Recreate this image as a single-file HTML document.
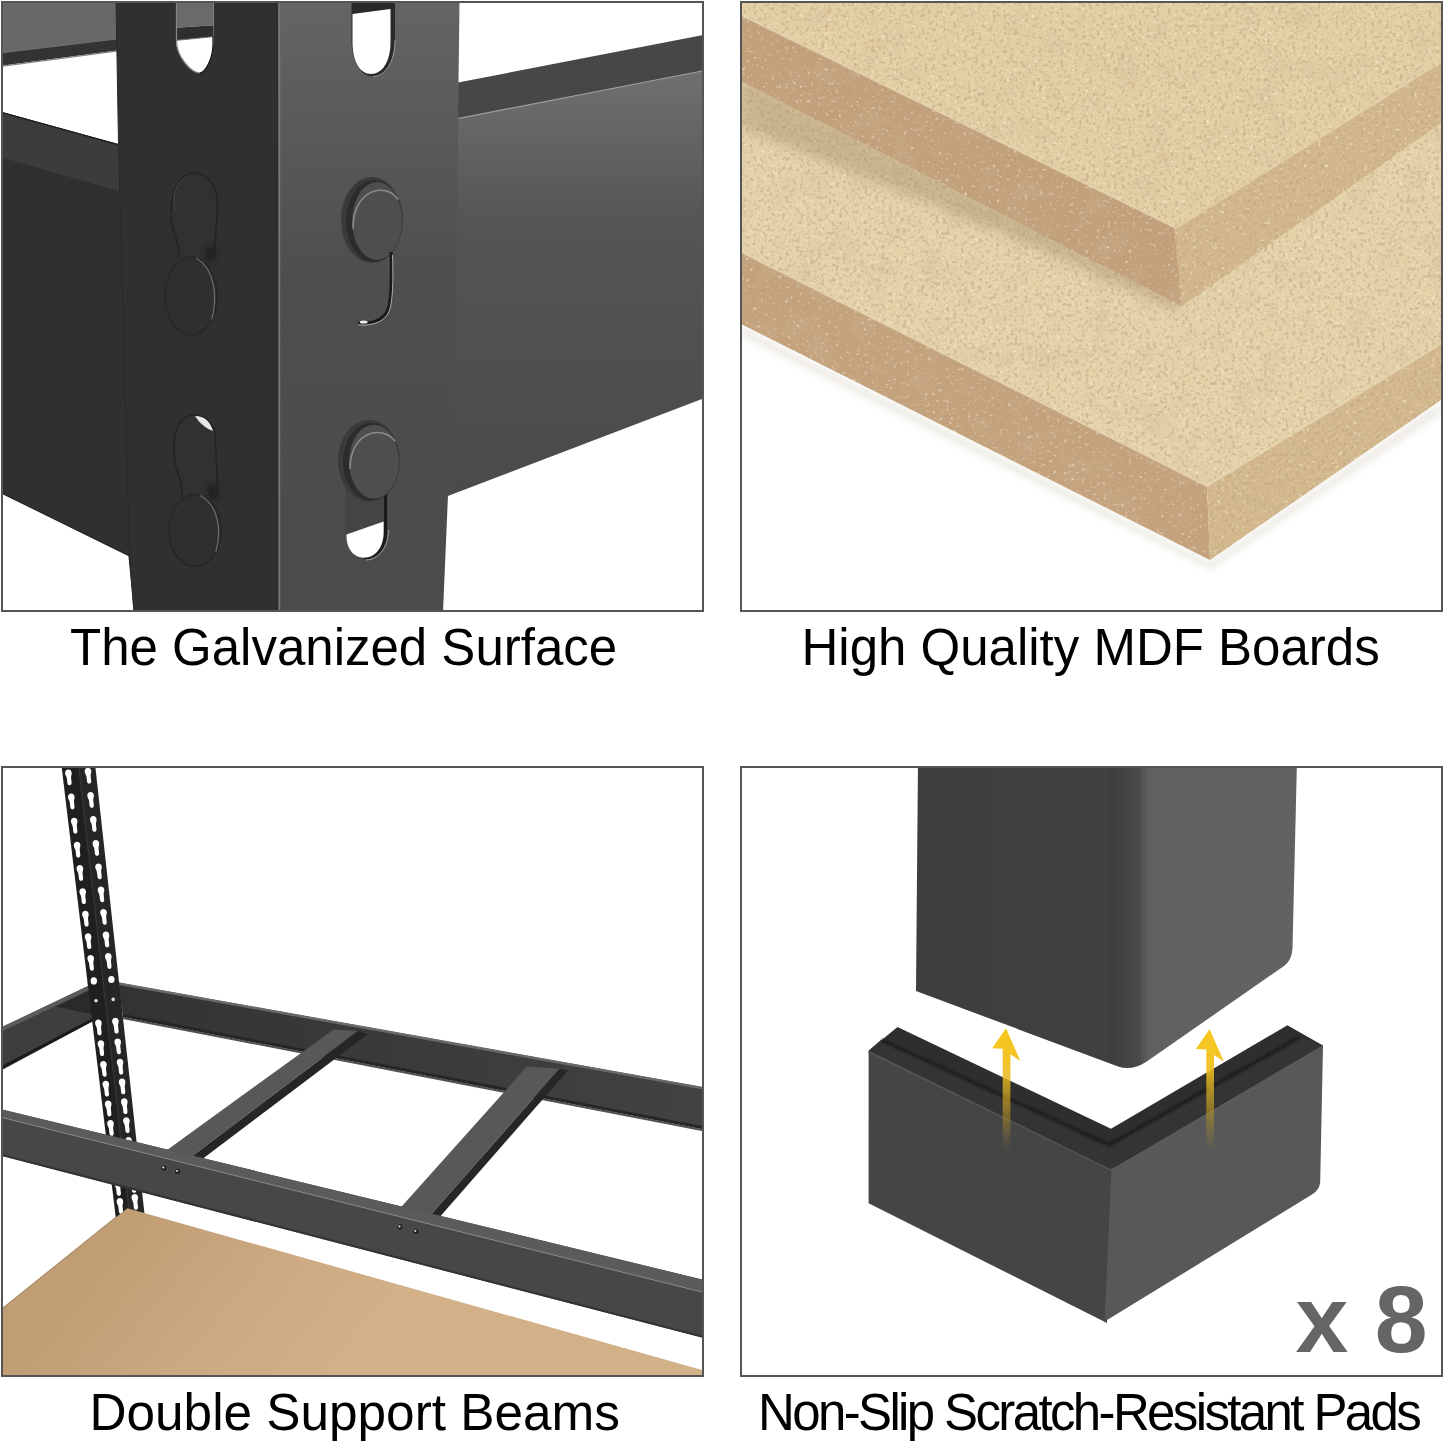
<!DOCTYPE html>
<html><head><meta charset="utf-8"><style>
html,body{margin:0;padding:0;background:#fff;width:1445px;height:1443px;overflow:hidden}
svg{display:block}
text{font-family:"Liberation Sans",sans-serif;}
</style></head><body>
<svg width="1445" height="1443" viewBox="0 0 1445 1443">
<defs>
<clipPath id="c1"><rect x="3" y="3" width="699" height="607"/></clipPath>
<clipPath id="c2"><rect x="742" y="3" width="699" height="607"/></clipPath>
<clipPath id="c3"><rect x="3" y="768" width="699" height="607"/></clipPath>
<clipPath id="c4"><rect x="742" y="768" width="699" height="607"/></clipPath>
<linearGradient id="gPostR" x1="0" y1="0" x2="0" y2="1">
<stop offset="0" stop-color="#646464"/><stop offset="0.45" stop-color="#4e4e4e"/><stop offset="1" stop-color="#4b4b4b"/>
</linearGradient>
<linearGradient id="gBeamR" x1="0" y1="0" x2="0" y2="1">
<stop offset="0" stop-color="#707070"/><stop offset="0.35" stop-color="#555"/><stop offset="1" stop-color="#4a4a4a"/>
</linearGradient>
<linearGradient id="gMdf3" gradientUnits="userSpaceOnUse" x1="130" y1="1215" x2="330" y2="1380">
<stop offset="0" stop-color="#c19d74"/><stop offset="0.55" stop-color="#cca981"/><stop offset="1" stop-color="#d2b088"/>
</linearGradient>
<linearGradient id="gLeg" gradientUnits="userSpaceOnUse" x1="916" y1="0" x2="1297" y2="0">
<stop offset="0" stop-color="#3e3e3e"/><stop offset="0.5" stop-color="#404040"/><stop offset="0.515" stop-color="#3d3d3d"/><stop offset="0.585" stop-color="#4a4a4a"/><stop offset="0.61" stop-color="#606060"/><stop offset="1" stop-color="#626262"/>
</linearGradient>
<linearGradient id="gArrow" x1="0" y1="0" x2="0" y2="1">
<stop offset="0" stop-color="#f8c81c"/><stop offset="0.3" stop-color="#f0c020" stop-opacity="0.95"/><stop offset="0.65" stop-color="#c8a020" stop-opacity="0.6"/><stop offset="1" stop-color="#a08020" stop-opacity="0"/>
</linearGradient>
<filter id="blur2" x="-50%" y="-50%" width="200%" height="200%"><feGaussianBlur stdDeviation="2.5"/></filter>
<filter id="blur1" x="-50%" y="-50%" width="200%" height="200%"><feGaussianBlur stdDeviation="1.2"/></filter>
<linearGradient id="gBack" gradientUnits="userSpaceOnUse" x1="120" y1="0" x2="702" y2="0"><stop offset="0" stop-color="#333"/><stop offset="1" stop-color="#424242"/></linearGradient>
</defs>

<g id="p1" clip-path="url(#c1)">
<rect x="0" y="0" width="720" height="620" fill="#fff"/>
<rect x="0" y="0" width="290" height="620" fill="#303030"/>
<polygon points="0,0 125,0 125,38 0,53" fill="#686868"/>
<polygon points="0,53 125,38 125,49.5 0,66" fill="#333"/>
<polyline points="0,53 120,38.6" stroke="#707070" stroke-width="1" fill="none"/>
<polygon points="0,66 125,49.5 125,146 0,111.5" fill="#fff"/>
<polyline points="0,66.6 118,50.9" stroke="#858585" stroke-width="1.3" fill="none"/>
<polygon points="0,111.5 125,146 125,193 0,157" fill="#3c3c3c"/>
<polyline points="0,112 119,144.8" stroke="#1e1e1e" stroke-width="1.2" fill="none"/>
<polygon points="0,492 129,555.4 135,620 0,620" fill="#fff"/>
<polyline points="0,492.3 129,555.6 134.5,612" stroke="#1c1c1c" stroke-width="1.2" fill="none"/>
<polygon points="116,0 279,0 279,620 135,620 129,555.4 118.5,144" fill="#303030"/>
<polyline points="116,0 118.5,144 129.5,554 134.5,620" stroke="#2a2a2a" stroke-width="1" fill="none"/>
<polygon points="440,0 710,0 710,399 448,495 440,495" fill="#fff"/>
<polygon points="440,86 702,35.3 702,71 440,122" fill="#474747"/>
<polygon points="440,122 702,71 702,399 440,499" fill="url(#gBeamR)"/>
<polyline points="455,119.2 702,71" stroke="#9a9a9a" stroke-width="1.2" fill="none"/>
<polygon points="278,3 459.5,3 458.5,82 456,380 448,495 443,612 278,612" fill="url(#gPostR)"/>
<polyline points="279.4,3 279.4,612" stroke="#787878" stroke-width="1.6" fill="none"/>
<polyline points="277,3 277,612" stroke="#2a2a2a" stroke-width="1" fill="none"/>
<clipPath id="s1"><path d="M176,0 L213.5,0 L213.5,40 C213.5,58 206,73 200,73 C192,73 176,58 176,40 Z"/></clipPath>
<g clip-path="url(#s1)"><rect x="170" y="0" width="50" height="80" fill="#fff"/><polygon points="170,0 220,0 220,25 170,28" fill="#6a6a6a"/><polygon points="170,28 220,25 220,36 170,41" fill="#2e2e2e"/><polyline points="170,41 220,36" stroke="#777" stroke-width="1" fill="none"/></g>
<path d="M176.5,0 L176.5,40 C176.5,58 192,73 200,73" stroke="#888" stroke-width="1.2" fill="none"/>
<path d="M213,36 L213,44 C213,58 206,72 200,73" stroke="#111" stroke-width="1.2" fill="none"/>
<path d="M351.5,0 L395,0 L395,40 C395,62 385,76.5 373,76.5 C361,76.5 351.5,62 351.5,40 Z" fill="#2a2a2a"/>
<path d="M352.5,14 L390.5,9 L390.5,42 C390.5,62 382,74 371,74 C360,74 352.5,62 352.5,42 Z" fill="#fff"/>
<path d="M395,40 C395,62 385,76.5 373,76.5" stroke="#9a9a9a" stroke-width="1" fill="none"/>
<ellipse cx="372" cy="220" rx="31" ry="43" fill="#3a3a3a"/><ellipse cx="374" cy="221" rx="28" ry="41" fill="#2c2c2c"/><ellipse cx="377" cy="221" rx="25" ry="39" fill="#4e4e4e"/><path d="M353,228.8 C353,189.8 384.5,181 398.25,199.55" stroke="#9a9a9a" stroke-width="1.6" fill="none" opacity="0.8"/>
<path d="M391,252 C391.5,270 392,292 389,306 C386,318 376,324 358,323" stroke="#1a1a1a" stroke-width="3" fill="none"/>
<path d="M392.5,255 C393,272 393.5,292 390.5,307 C387.5,320 377,326 358,325" stroke="#aaa" stroke-width="1" fill="none"/>
<ellipse cx="363.7" cy="322" rx="4" ry="1.6" fill="#eee"/>
<path d="M345.6,480 L388,480 L388,530 C388,548 378,559.6 366,559.6 C354,559.6 345.6,548 345.6,530 Z" fill="#444"/>
<path d="M385.5,492 L385.5,532 C385.5,548 376,557.7 364,557.7" stroke="#1a1a1a" stroke-width="3" fill="none"/>
<path d="M346.5,534.5 L383.6,521.6 L383.6,532 C383.6,548 375,557.7 364,557.7 C353,557.7 346.5,548 346.5,536 Z" fill="#fff"/>
<path d="M388.5,530 C388.5,548 378,560 366,560" stroke="#999" stroke-width="1" fill="none"/>
<ellipse cx="369" cy="460.7" rx="31" ry="41" fill="#3a3a3a"/><ellipse cx="371" cy="461.7" rx="28" ry="39" fill="#2c2c2c"/><ellipse cx="374" cy="461.7" rx="25" ry="37" fill="#4e4e4e"/><path d="M350,469.09999999999997 C350,432.09999999999997 381.5,423.7 395.25,441.34999999999997" stroke="#9a9a9a" stroke-width="1.6" fill="none" opacity="0.8"/>
<path d="M178.8,258 C179,245 177,240 174,232 C170,222 170,200 176,187 C182,176 190,172 197,173 C206,174 214,182 216.5,195 C218,205 217.6,209 217.6,209 L214,258" fill="#313131" stroke="#242424" stroke-width="1.6"/>
<path d="M176,210 C172,200 174,185 185,177" stroke="#484848" stroke-width="1" fill="none"/>
<path d="M204,246 L215,246 L216,262 L206,262 Z" fill="#242424" filter="url(#blur2)"/>
<ellipse cx="191" cy="296" rx="26" ry="39" fill="#2f2f2f" stroke="#262626" stroke-width="1.5"/><path d="M196.2,258 C214.4,268.7 218,296 211.8,319.4" stroke="#6a6a6a" stroke-width="1.3" fill="none"/>
<path d="M182,497 C182,484 180,478 177,470 C173,460 173,440 177,428 C182,417 190,414 197,415 C206,416 213,423 215,433 L218,497" fill="#313131" stroke="#242424" stroke-width="1.6"/>
<path d="M195,416 C204,416 210,421 213,431 C207,429 200,424 195,416 Z" fill="#e8e8e8"/>
<path d="M207,484 L218,484 L219,500 L209,500 Z" fill="#242424" filter="url(#blur2)"/>
<ellipse cx="195" cy="530.5" rx="26" ry="36" fill="#2f2f2f" stroke="#262626" stroke-width="1.5"/><path d="M200.2,495.5 C218.4,505.3 222,530.5 215.8,552.1" stroke="#6a6a6a" stroke-width="1.3" fill="none"/>
</g>
<rect x="2" y="2" width="701" height="609" fill="none" stroke="#555" stroke-width="2"/>
<text x="70" y="665" font-size="51" fill="#000">The Galvanized Surface</text>
<filter id="nz" x="0" y="0" width="100%" height="100%" filterUnits="userSpaceOnUse"><feTurbulence type="fractalNoise" baseFrequency="0.28" numOctaves="3" seed="4" result="n"/><feTurbulence type="fractalNoise" baseFrequency="0.035" numOctaves="2" seed="9" result="n2"/><feColorMatrix in="n" type="matrix" values="0 0 0 0 0.52  0 0 0 0 0.38  0 0 0 0 0.22  5 0 0 0 -2.6" result="dk"/><feColorMatrix in="n" type="matrix" values="0 0 0 0 1  0 0 0 0 0.97  0 0 0 0 0.88  0 -4.0 0 0 1.45" result="lt"/><feColorMatrix in="n2" type="matrix" values="0 0 0 0 0.62  0 0 0 0 0.48  0 0 0 0 0.30  0 0 1.6 0 -0.78" result="mot"/><feMerge result="m"><feMergeNode in="mot"/><feMergeNode in="dk"/><feMergeNode in="lt"/></feMerge><feComposite in="m" in2="SourceGraphic" operator="in"/></filter>
<filter id="blur6" x="-20%" y="-20%" width="140%" height="140%"><feGaussianBlur stdDeviation="6"/></filter>
<filter id="blur3" x="-20%" y="-20%" width="140%" height="140%"><feGaussianBlur stdDeviation="3"/></filter>
<g id="p2" clip-path="url(#c2)">
<rect x="740" y="0" width="705" height="620" fill="#fff"/>
<polygon points="741,326 1210,562 1441,402 1441,414 1210,570 741,336" fill="#efece6" filter="url(#blur3)"/>
<polygon points="741.0,70.0 1441.0,-260.0 1441.0,345.0 1207.0,486.0 741.0,252.0" fill="#e5d3aa"/>
<polygon points="741.0,70.0 1441.0,-260.0 1441.0,345.0 1207.0,486.0 741.0,252.0" fill="#000" filter="url(#nz)" opacity="0.55"/>
<clipPath id="lt"><polygon points="741.0,70.0 1441.0,-260.0 1441.0,345.0 1207.0,486.0 741.0,252.0"/></clipPath>
<g clip-path="url(#lt)"><polygon points="741,76 1180,296 1180,312 1000,232 741,128" fill="#a08a66" opacity="0.4" filter="url(#blur6)"/></g>
<polygon points="741.0,252.0 1207.0,486.0 1210.0,560.0 741.0,324.0" fill="#c4a27c"/>
<polygon points="741.0,252.0 1207.0,486.0 1210.0,560.0 741.0,324.0" fill="#000" filter="url(#nz)" opacity="0.6"/>
<polygon points="1207.0,486.0 1441.0,344.0 1441.0,400.0 1210.0,560.0" fill="#d4b98e"/>
<polygon points="1207.0,486.0 1441.0,344.0 1441.0,400.0 1210.0,560.0" fill="#000" filter="url(#nz)" opacity="0.6"/>
<polygon points="741.0,3.0 1441.0,3.0 1441.0,62.0 1176.0,228.0 741.0,15.0" fill="#e4d0a5"/>
<polygon points="741.0,3.0 1441.0,3.0 1441.0,62.0 1176.0,228.0 741.0,15.0" fill="#000" filter="url(#nz)" opacity="0.55"/>
<polygon points="741.0,15.0 1176.0,228.0 1182.0,306.0 741.0,81.0" fill="#c2a07a"/>
<polygon points="741.0,15.0 1176.0,228.0 1182.0,306.0 741.0,81.0" fill="#000" filter="url(#nz)" opacity="0.6"/>
<polygon points="1174.0,228.0 1441.0,62.0 1441.0,123.0 1182.0,306.0" fill="#d3b78c"/>
<polygon points="1174.0,228.0 1441.0,62.0 1441.0,123.0 1182.0,306.0" fill="#000" filter="url(#nz)" opacity="0.6"/>
<polyline points="741,15 1176,228 1441,62" stroke="#eadbb8" stroke-width="2" fill="none" opacity="0.6"/>
<polyline points="741,252 1207,486 1441,344" stroke="#eadbb8" stroke-width="2" fill="none" opacity="0.6"/>
</g>
<rect x="741" y="2" width="701" height="609" fill="none" stroke="#555" stroke-width="2"/>
<text x="801.5" y="665" font-size="51" fill="#000">High Quality MDF Boards</text>
<g id="p3" clip-path="url(#c3)">
<rect x="0" y="760" width="720" height="620" fill="#fff"/>
<polygon points="0.0,1028.0 88.0,986.0 95.0,1020.0 0.0,1071.0" fill="#3e3e3e"/>
<polygon points="0.0,1028.0 88.0,986.0 89.0,990.0 0.0,1032.5" fill="#5c5c5c"/>
<polygon points="55.8,1006.5 92.0,989.5 92.0,1014.5" fill="#2a2a2a"/>
<polyline points="0.0,1068.5 94.0,1019.0" stroke="#1a1a1a" stroke-width="3" fill="none"/>
<polygon points="118.0,982.5 702.0,1087.0 702.0,1129.0 123.0,1017.0" fill="url(#gBack)"/>
<polyline points="118.0,983.5 702.0,1088.0" stroke="#6a6a6a" stroke-width="2.5" fill="none"/>
<polyline points="123.0,1015.5 702.0,1127.5" stroke="#262626" stroke-width="3" fill="none"/>
<polyline points="123.0,1018.0 702.0,1130.0" stroke="#505050" stroke-width="2" fill="none"/>
<polygon points="333.6,1029.4 357.9,1031.0 188.4,1159.0 161.6,1154.0" fill="#585858"/>
<polygon points="357.9,1031.0 368.0,1034.0 198.4,1162.0 188.4,1159.0" fill="#262626"/>
<polygon points="526.8,1066.6 559.6,1068.7 428.5,1217.5 394.7,1214.3" fill="#585858"/>
<polygon points="559.6,1068.7 568.0,1070.5 436.7,1220.6 428.5,1217.5" fill="#262626"/>
<polygon points="60.8,760.0 78.1,760.0 130.3,1222.0 116.3,1222.0" fill="#1f1f1f"/>
<polygon points="78.1,760.0 94.6,760.0 145.4,1222.0 130.3,1222.0" fill="#262626"/>
<polyline points="78.1,760.0 130.3,1222.0" stroke="#333" stroke-width="1.5" fill="none"/>
<path transform="translate(68.9,777.5) rotate(-6.5)" d="M-3.3,-4.5 C-3.3,-9.2 3.3,-9.2 3.3,-4.5 C3.3,-2.5 2.2,-1.5 2.1,0.5 L2.1,5.5 C2.1,8.6 -2.1,8.6 -2.1,5.5 L-2.1,0.5 C-2.2,-1.5 -3.3,-2.5 -3.3,-4.5 Z" fill="#fff"/>
<path transform="translate(71.8,801.6) rotate(-6.5)" d="M-3.3,-4.5 C-3.3,-9.2 3.3,-9.2 3.3,-4.5 C3.3,-2.5 2.2,-1.5 2.1,0.5 L2.1,5.5 C2.1,8.6 -2.1,8.6 -2.1,5.5 L-2.1,0.5 C-2.2,-1.5 -3.3,-2.5 -3.3,-4.5 Z" fill="#fff"/>
<path transform="translate(74.7,825.7) rotate(-6.5)" d="M-3.3,-4.5 C-3.3,-9.2 3.3,-9.2 3.3,-4.5 C3.3,-2.5 2.2,-1.5 2.1,0.5 L2.1,5.5 C2.1,8.6 -2.1,8.6 -2.1,5.5 L-2.1,0.5 C-2.2,-1.5 -3.3,-2.5 -3.3,-4.5 Z" fill="#fff"/>
<path transform="translate(77.6,849.8) rotate(-6.5)" d="M-3.3,-4.5 C-3.3,-9.2 3.3,-9.2 3.3,-4.5 C3.3,-2.5 2.2,-1.5 2.1,0.5 L2.1,5.5 C2.1,8.6 -2.1,8.6 -2.1,5.5 L-2.1,0.5 C-2.2,-1.5 -3.3,-2.5 -3.3,-4.5 Z" fill="#fff"/>
<path transform="translate(80.4,873.0) rotate(-6.5)" d="M-3.3,-4.5 C-3.3,-9.2 3.3,-9.2 3.3,-4.5 C3.3,-2.5 2.2,-1.5 2.1,0.5 L2.1,5.5 C2.1,8.6 -2.1,8.6 -2.1,5.5 L-2.1,0.5 C-2.2,-1.5 -3.3,-2.5 -3.3,-4.5 Z" fill="#fff"/>
<path transform="translate(83.2,896.2) rotate(-6.5)" d="M-3.3,-4.5 C-3.3,-9.2 3.3,-9.2 3.3,-4.5 C3.3,-2.5 2.2,-1.5 2.1,0.5 L2.1,5.5 C2.1,8.6 -2.1,8.6 -2.1,5.5 L-2.1,0.5 C-2.2,-1.5 -3.3,-2.5 -3.3,-4.5 Z" fill="#fff"/>
<path transform="translate(85.9,918.7) rotate(-6.5)" d="M-3.3,-4.5 C-3.3,-9.2 3.3,-9.2 3.3,-4.5 C3.3,-2.5 2.2,-1.5 2.1,0.5 L2.1,5.5 C2.1,8.6 -2.1,8.6 -2.1,5.5 L-2.1,0.5 C-2.2,-1.5 -3.3,-2.5 -3.3,-4.5 Z" fill="#fff"/>
<path transform="translate(88.6,941.3) rotate(-6.5)" d="M-3.3,-4.5 C-3.3,-9.2 3.3,-9.2 3.3,-4.5 C3.3,-2.5 2.2,-1.5 2.1,0.5 L2.1,5.5 C2.1,8.6 -2.1,8.6 -2.1,5.5 L-2.1,0.5 C-2.2,-1.5 -3.3,-2.5 -3.3,-4.5 Z" fill="#fff"/>
<path transform="translate(91.2,962.9) rotate(-6.5)" d="M-3.3,-4.5 C-3.3,-9.2 3.3,-9.2 3.3,-4.5 C3.3,-2.5 2.2,-1.5 2.1,0.5 L2.1,5.5 C2.1,8.6 -2.1,8.6 -2.1,5.5 L-2.1,0.5 C-2.2,-1.5 -3.3,-2.5 -3.3,-4.5 Z" fill="#fff"/>
<path transform="translate(98.9,1027.5) rotate(-6.5)" d="M-3.3,-4.5 C-3.3,-9.2 3.3,-9.2 3.3,-4.5 C3.3,-2.5 2.2,-1.5 2.1,0.5 L2.1,5.5 C2.1,8.6 -2.1,8.6 -2.1,5.5 L-2.1,0.5 C-2.2,-1.5 -3.3,-2.5 -3.3,-4.5 Z" fill="#fff"/>
<path transform="translate(101.4,1048.2) rotate(-6.5)" d="M-3.3,-4.5 C-3.3,-9.2 3.3,-9.2 3.3,-4.5 C3.3,-2.5 2.2,-1.5 2.1,0.5 L2.1,5.5 C2.1,8.6 -2.1,8.6 -2.1,5.5 L-2.1,0.5 C-2.2,-1.5 -3.3,-2.5 -3.3,-4.5 Z" fill="#fff"/>
<path transform="translate(103.9,1068.9) rotate(-6.5)" d="M-3.3,-4.5 C-3.3,-9.2 3.3,-9.2 3.3,-4.5 C3.3,-2.5 2.2,-1.5 2.1,0.5 L2.1,5.5 C2.1,8.6 -2.1,8.6 -2.1,5.5 L-2.1,0.5 C-2.2,-1.5 -3.3,-2.5 -3.3,-4.5 Z" fill="#fff"/>
<path transform="translate(106.3,1088.7) rotate(-6.5)" d="M-3.3,-4.5 C-3.3,-9.2 3.3,-9.2 3.3,-4.5 C3.3,-2.5 2.2,-1.5 2.1,0.5 L2.1,5.5 C2.1,8.6 -2.1,8.6 -2.1,5.5 L-2.1,0.5 C-2.2,-1.5 -3.3,-2.5 -3.3,-4.5 Z" fill="#fff"/>
<path transform="translate(108.7,1108.6) rotate(-6.5)" d="M-3.3,-4.5 C-3.3,-9.2 3.3,-9.2 3.3,-4.5 C3.3,-2.5 2.2,-1.5 2.1,0.5 L2.1,5.5 C2.1,8.6 -2.1,8.6 -2.1,5.5 L-2.1,0.5 C-2.2,-1.5 -3.3,-2.5 -3.3,-4.5 Z" fill="#fff"/>
<path transform="translate(111.0,1128.0) rotate(-6.5)" d="M-3.3,-4.5 C-3.3,-9.2 3.3,-9.2 3.3,-4.5 C3.3,-2.5 2.2,-1.5 2.1,0.5 L2.1,5.5 C2.1,8.6 -2.1,8.6 -2.1,5.5 L-2.1,0.5 C-2.2,-1.5 -3.3,-2.5 -3.3,-4.5 Z" fill="#fff"/>
<path transform="translate(113.4,1148.0) rotate(-6.5)" d="M-3.3,-4.5 C-3.3,-9.2 3.3,-9.2 3.3,-4.5 C3.3,-2.5 2.2,-1.5 2.1,0.5 L2.1,5.5 C2.1,8.6 -2.1,8.6 -2.1,5.5 L-2.1,0.5 C-2.2,-1.5 -3.3,-2.5 -3.3,-4.5 Z" fill="#fff"/>
<path transform="translate(115.8,1168.0) rotate(-6.5)" d="M-3.3,-4.5 C-3.3,-9.2 3.3,-9.2 3.3,-4.5 C3.3,-2.5 2.2,-1.5 2.1,0.5 L2.1,5.5 C2.1,8.6 -2.1,8.6 -2.1,5.5 L-2.1,0.5 C-2.2,-1.5 -3.3,-2.5 -3.3,-4.5 Z" fill="#fff"/>
<path transform="translate(118.2,1188.0) rotate(-6.5)" d="M-3.3,-4.5 C-3.3,-9.2 3.3,-9.2 3.3,-4.5 C3.3,-2.5 2.2,-1.5 2.1,0.5 L2.1,5.5 C2.1,8.6 -2.1,8.6 -2.1,5.5 L-2.1,0.5 C-2.2,-1.5 -3.3,-2.5 -3.3,-4.5 Z" fill="#fff"/>
<path transform="translate(120.4,1206.0) rotate(-6.5)" d="M-3.3,-4.5 C-3.3,-9.2 3.3,-9.2 3.3,-4.5 C3.3,-2.5 2.2,-1.5 2.1,0.5 L2.1,5.5 C2.1,8.6 -2.1,8.6 -2.1,5.5 L-2.1,0.5 C-2.2,-1.5 -3.3,-2.5 -3.3,-4.5 Z" fill="#fff"/>
<path transform="translate(88.5,775.8) rotate(-6.5)" d="M-3.3,-4.5 C-3.3,-9.2 3.3,-9.2 3.3,-4.5 C3.3,-2.5 2.2,-1.5 2.1,0.5 L2.1,5.5 C2.1,8.6 -2.1,8.6 -2.1,5.5 L-2.1,0.5 C-2.2,-1.5 -3.3,-2.5 -3.3,-4.5 Z" fill="#fff"/>
<path transform="translate(91.1,800.0) rotate(-6.5)" d="M-3.3,-4.5 C-3.3,-9.2 3.3,-9.2 3.3,-4.5 C3.3,-2.5 2.2,-1.5 2.1,0.5 L2.1,5.5 C2.1,8.6 -2.1,8.6 -2.1,5.5 L-2.1,0.5 C-2.2,-1.5 -3.3,-2.5 -3.3,-4.5 Z" fill="#fff"/>
<path transform="translate(93.8,824.0) rotate(-6.5)" d="M-3.3,-4.5 C-3.3,-9.2 3.3,-9.2 3.3,-4.5 C3.3,-2.5 2.2,-1.5 2.1,0.5 L2.1,5.5 C2.1,8.6 -2.1,8.6 -2.1,5.5 L-2.1,0.5 C-2.2,-1.5 -3.3,-2.5 -3.3,-4.5 Z" fill="#fff"/>
<path transform="translate(96.4,848.0) rotate(-6.5)" d="M-3.3,-4.5 C-3.3,-9.2 3.3,-9.2 3.3,-4.5 C3.3,-2.5 2.2,-1.5 2.1,0.5 L2.1,5.5 C2.1,8.6 -2.1,8.6 -2.1,5.5 L-2.1,0.5 C-2.2,-1.5 -3.3,-2.5 -3.3,-4.5 Z" fill="#fff"/>
<path transform="translate(99.0,871.4) rotate(-6.5)" d="M-3.3,-4.5 C-3.3,-9.2 3.3,-9.2 3.3,-4.5 C3.3,-2.5 2.2,-1.5 2.1,0.5 L2.1,5.5 C2.1,8.6 -2.1,8.6 -2.1,5.5 L-2.1,0.5 C-2.2,-1.5 -3.3,-2.5 -3.3,-4.5 Z" fill="#fff"/>
<path transform="translate(101.5,894.4) rotate(-6.5)" d="M-3.3,-4.5 C-3.3,-9.2 3.3,-9.2 3.3,-4.5 C3.3,-2.5 2.2,-1.5 2.1,0.5 L2.1,5.5 C2.1,8.6 -2.1,8.6 -2.1,5.5 L-2.1,0.5 C-2.2,-1.5 -3.3,-2.5 -3.3,-4.5 Z" fill="#fff"/>
<path transform="translate(104.0,916.9) rotate(-6.5)" d="M-3.3,-4.5 C-3.3,-9.2 3.3,-9.2 3.3,-4.5 C3.3,-2.5 2.2,-1.5 2.1,0.5 L2.1,5.5 C2.1,8.6 -2.1,8.6 -2.1,5.5 L-2.1,0.5 C-2.2,-1.5 -3.3,-2.5 -3.3,-4.5 Z" fill="#fff"/>
<path transform="translate(106.5,939.5) rotate(-6.5)" d="M-3.3,-4.5 C-3.3,-9.2 3.3,-9.2 3.3,-4.5 C3.3,-2.5 2.2,-1.5 2.1,0.5 L2.1,5.5 C2.1,8.6 -2.1,8.6 -2.1,5.5 L-2.1,0.5 C-2.2,-1.5 -3.3,-2.5 -3.3,-4.5 Z" fill="#fff"/>
<path transform="translate(108.8,961.1) rotate(-6.5)" d="M-3.3,-4.5 C-3.3,-9.2 3.3,-9.2 3.3,-4.5 C3.3,-2.5 2.2,-1.5 2.1,0.5 L2.1,5.5 C2.1,8.6 -2.1,8.6 -2.1,5.5 L-2.1,0.5 C-2.2,-1.5 -3.3,-2.5 -3.3,-4.5 Z" fill="#fff"/>
<path transform="translate(115.9,1025.7) rotate(-6.5)" d="M-3.3,-4.5 C-3.3,-9.2 3.3,-9.2 3.3,-4.5 C3.3,-2.5 2.2,-1.5 2.1,0.5 L2.1,5.5 C2.1,8.6 -2.1,8.6 -2.1,5.5 L-2.1,0.5 C-2.2,-1.5 -3.3,-2.5 -3.3,-4.5 Z" fill="#fff"/>
<path transform="translate(118.2,1046.4) rotate(-6.5)" d="M-3.3,-4.5 C-3.3,-9.2 3.3,-9.2 3.3,-4.5 C3.3,-2.5 2.2,-1.5 2.1,0.5 L2.1,5.5 C2.1,8.6 -2.1,8.6 -2.1,5.5 L-2.1,0.5 C-2.2,-1.5 -3.3,-2.5 -3.3,-4.5 Z" fill="#fff"/>
<path transform="translate(120.5,1066.7) rotate(-6.5)" d="M-3.3,-4.5 C-3.3,-9.2 3.3,-9.2 3.3,-4.5 C3.3,-2.5 2.2,-1.5 2.1,0.5 L2.1,5.5 C2.1,8.6 -2.1,8.6 -2.1,5.5 L-2.1,0.5 C-2.2,-1.5 -3.3,-2.5 -3.3,-4.5 Z" fill="#fff"/>
<path transform="translate(122.6,1086.5) rotate(-6.5)" d="M-3.3,-4.5 C-3.3,-9.2 3.3,-9.2 3.3,-4.5 C3.3,-2.5 2.2,-1.5 2.1,0.5 L2.1,5.5 C2.1,8.6 -2.1,8.6 -2.1,5.5 L-2.1,0.5 C-2.2,-1.5 -3.3,-2.5 -3.3,-4.5 Z" fill="#fff"/>
<path transform="translate(124.8,1106.3) rotate(-6.5)" d="M-3.3,-4.5 C-3.3,-9.2 3.3,-9.2 3.3,-4.5 C3.3,-2.5 2.2,-1.5 2.1,0.5 L2.1,5.5 C2.1,8.6 -2.1,8.6 -2.1,5.5 L-2.1,0.5 C-2.2,-1.5 -3.3,-2.5 -3.3,-4.5 Z" fill="#fff"/>
<path transform="translate(126.9,1125.2) rotate(-6.5)" d="M-3.3,-4.5 C-3.3,-9.2 3.3,-9.2 3.3,-4.5 C3.3,-2.5 2.2,-1.5 2.1,0.5 L2.1,5.5 C2.1,8.6 -2.1,8.6 -2.1,5.5 L-2.1,0.5 C-2.2,-1.5 -3.3,-2.5 -3.3,-4.5 Z" fill="#fff"/>
<path transform="translate(129.1,1145.0) rotate(-6.5)" d="M-3.3,-4.5 C-3.3,-9.2 3.3,-9.2 3.3,-4.5 C3.3,-2.5 2.2,-1.5 2.1,0.5 L2.1,5.5 C2.1,8.6 -2.1,8.6 -2.1,5.5 L-2.1,0.5 C-2.2,-1.5 -3.3,-2.5 -3.3,-4.5 Z" fill="#fff"/>
<path transform="translate(131.3,1165.0) rotate(-6.5)" d="M-3.3,-4.5 C-3.3,-9.2 3.3,-9.2 3.3,-4.5 C3.3,-2.5 2.2,-1.5 2.1,0.5 L2.1,5.5 C2.1,8.6 -2.1,8.6 -2.1,5.5 L-2.1,0.5 C-2.2,-1.5 -3.3,-2.5 -3.3,-4.5 Z" fill="#fff"/>
<path transform="translate(133.5,1185.0) rotate(-6.5)" d="M-3.3,-4.5 C-3.3,-9.2 3.3,-9.2 3.3,-4.5 C3.3,-2.5 2.2,-1.5 2.1,0.5 L2.1,5.5 C2.1,8.6 -2.1,8.6 -2.1,5.5 L-2.1,0.5 C-2.2,-1.5 -3.3,-2.5 -3.3,-4.5 Z" fill="#fff"/>
<path transform="translate(135.3,1202.0) rotate(-6.5)" d="M-3.3,-4.5 C-3.3,-9.2 3.3,-9.2 3.3,-4.5 C3.3,-2.5 2.2,-1.5 2.1,0.5 L2.1,5.5 C2.1,8.6 -2.1,8.6 -2.1,5.5 L-2.1,0.5 C-2.2,-1.5 -3.3,-2.5 -3.3,-4.5 Z" fill="#fff"/>
<ellipse cx="93.8" cy="980.9" rx="3.2" ry="3.6" fill="#fff"/>
<ellipse cx="111.4" cy="979.5" rx="3.2" ry="3.6" fill="#fff"/>
<circle cx="96" cy="1000.7" r="1.8" fill="#ddd"/>
<circle cx="113.2" cy="999.4" r="1.8" fill="#ddd"/>
<polygon points="0.0,1108.9 702.0,1279.5 702.0,1337.6 0.0,1155.4" fill="#474747"/>
<polygon points="0.0,1108.9 702.0,1279.5 702.0,1292.0 0.0,1117.0" fill="#5b5b5b"/>
<polyline points="0.0,1117.0 702.0,1292.0" stroke="#8a8a8a" stroke-width="1" fill="none"/>
<polyline points="0.0,1154.4 702.0,1336.6" stroke="#333" stroke-width="2" fill="none"/>
<circle cx="163.9" cy="1168" r="3.6" fill="#262626" stroke="#5a5a5a" stroke-width="0.8"/>
<circle cx="163.3" cy="1167.4" r="1.1" fill="#cfcfcf"/>
<circle cx="177.7" cy="1171.4" r="3.6" fill="#262626" stroke="#5a5a5a" stroke-width="0.8"/>
<circle cx="177.1" cy="1170.8000000000002" r="1.1" fill="#cfcfcf"/>
<circle cx="400" cy="1227" r="3.6" fill="#262626" stroke="#5a5a5a" stroke-width="0.8"/>
<circle cx="399.4" cy="1226.4" r="1.1" fill="#cfcfcf"/>
<circle cx="415.9" cy="1231.5" r="3.6" fill="#262626" stroke="#5a5a5a" stroke-width="0.8"/>
<circle cx="415.29999999999995" cy="1230.9" r="1.1" fill="#cfcfcf"/>
<polygon points="127.4,1208.2 702.0,1370.0 702.0,1380.0 0.0,1380.0 0.0,1310.5 115.7,1217.4" fill="url(#gMdf3)"/>
<polyline points="0.0,1310.5 115.7,1217.4" stroke="#a98b66" stroke-width="1.2" fill="none"/>
</g>
<rect x="2" y="767" width="701" height="609" fill="none" stroke="#555" stroke-width="2"/>
<text x="89.5" y="1430" font-size="51.3" fill="#000">Double Support Beams</text>
<g id="p4" clip-path="url(#c4)">
<rect x="740" y="760" width="705" height="620" fill="#fff"/>
<path d="M918,760 L1297,760 L1292.5,948 Q1292,960 1284,966 L1146,1062 Q1132,1071 1118,1066.5 L916,991 Z" fill="url(#gLeg)"/>
<polygon points="897.5,1027.0 1111.0,1128.7 1287.4,1025.3 1323.0,1045.6 1111.4,1169.4 868.6,1050.7" fill="#2e2e2e"/>
<polygon points="868.6,1050.7 1113.0,1170.5 1107.0,1323.0 868.6,1203.3" fill="#454545"/>
<polyline points="868.6,1052.0 1109.4,1169.0" stroke="#525252" stroke-width="2" fill="none"/>
<path d="M1111.4,1169.4 L1323,1045.6 L1320.2,1182 Q1319.5,1190 1312,1194.6 L1104.6,1321.5 Z" fill="#585858"/>
<polygon points="881.0,1040.0 1109.0,1145.0 1300.0,1037.0 1323.0,1045.6 1111.4,1169.4 868.6,1050.7" fill="#343434"/>
<polyline points="881.6,1040.0 1109.0,1145.0 1300.0,1037.0" stroke="#1c1c1c" stroke-width="3" fill="none" filter="url(#blur1)"/>
<polygon points="1006.0,1028.3 1020.4,1061.0 1010.4,1054.3 1010.4,1151.3 1002.7,1151.3 1002.7,1048.8 992.2,1048.2" fill="url(#gArrow)"/>
<polygon points="1209.6,1029.0 1224.0,1061.7 1214.0,1055.0 1214.0,1152.0 1206.3,1152.0 1206.3,1049.5 1195.8,1048.9" fill="url(#gArrow)"/>
</g>
<rect x="741" y="767" width="701" height="609" fill="none" stroke="#555" stroke-width="2"/>
<text x="1295.5" y="1352" font-size="95" font-weight="bold" fill="#656565">x 8</text>
<text x="758" y="1430" font-size="51" letter-spacing="-2.63" fill="#000">Non-Slip Scratch-Resistant Pads</text>
</svg>
</body></html>
